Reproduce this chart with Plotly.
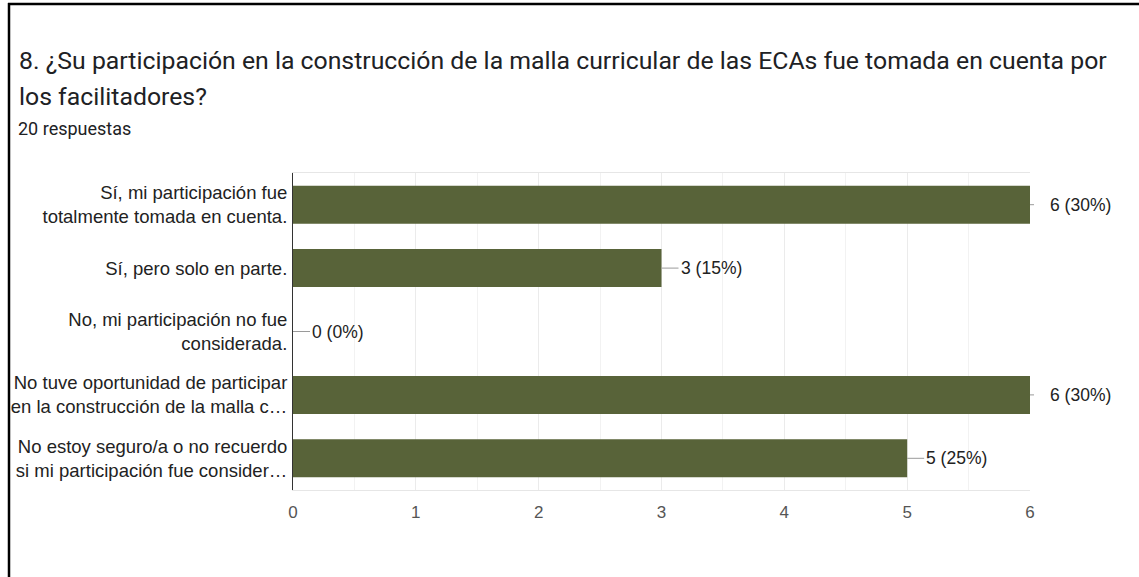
import plotly.graph_objects as go

categories = [
    "Sí, mi participación fue<br>totalmente tomada en cuenta.",
    "Sí, pero solo en parte.",
    "No, mi participación no fue<br>considerada.",
    "No tuve oportunidad de participar<br>en la construcción de la malla c…",
    "No estoy seguro/a o no recuerdo<br>si mi participación fue consider…",
]
counts = [6, 3, 0, 6, 5]
percents = [30, 15, 0, 30, 25]
x_ticks = [0, 1, 2, 3, 4, 5, 6]

W, H = 1139, 577
L, R, T, B = 293, 109, 173, 87
PW, PH = W - L - R, H - T - B


def px_x(p):
    return (p - L) / PW


def px_y(p):
    return 1 - (p - T) / PH


BAR = "#586339"
LABEL_FONT = "Liberation Sans, Arial"

fig = go.Figure()
fig.add_trace(go.Bar(
    y=categories, x=counts, orientation="h",
    marker=dict(color=BAR, line=dict(width=0)),
    hoverinfo="skip",
))

vmax = max(counts)
for c, v, p in zip(categories, counts, percents):
    fig.add_annotation(
        x=v, y=c, xref="x", yref="y",
        text=f"{v} ({p}%)",
        showarrow=True, arrowhead=0, arrowwidth=1, arrowcolor="#9a9a9a",
        ax=(18 if v == vmax else 17), ay=0,
        startstandoff=(14 if v == vmax else 0),
        xanchor="left", yanchor="middle",
        font=dict(family=LABEL_FONT, size=17.5, color="#222222"),
    )

title_font = dict(family="Roboto", size=24.8, color="#202124")
fig.add_annotation(x=px_x(17), y=px_y(61), xref="paper", yref="paper",
                   text="8. ¿Su participación en la construcción de la malla curricular de las ECAs fue tomada en cuenta por",
                   showarrow=False, xanchor="left", yanchor="middle", font=title_font)
fig.add_annotation(x=px_x(17), y=px_y(97), xref="paper", yref="paper",
                   text="los facilitadores?",
                   showarrow=False, xanchor="left", yanchor="middle", font=title_font)
fig.add_annotation(x=px_x(16), y=px_y(128), xref="paper", yref="paper",
                   text="20 respuestas",
                   showarrow=False, xanchor="left", yanchor="middle",
                   font=dict(family="Roboto", size=18, color="#202124"))

# outer frame lines (left and top)
fig.add_shape(type="line", xref="paper", yref="paper",
              x0=px_x(9), x1=px_x(9), y0=px_y(3), y1=px_y(H + 5),
              line=dict(color="#000000", width=2.5))
fig.add_shape(type="line", xref="paper", yref="paper",
              x0=px_x(8), x1=px_x(W + 5), y0=px_y(4), y1=px_y(4),
              line=dict(color="#000000", width=2.5))

fig.update_layout(
    width=W, height=H,
    margin=dict(l=L, r=R, t=T, b=B),
    paper_bgcolor="white", plot_bgcolor="white",
    showlegend=False,
    bargap=0.4,
    xaxis=dict(
        range=[0, 6], tickvals=x_ticks, ticktext=[str(t) for t in x_ticks],
        showgrid=True, gridcolor="#ebebeb", gridwidth=1,
        minor=dict(dtick=0.5, showgrid=True, gridcolor="#f2f2f2"),
        zeroline=False,
        showline=True, linecolor="#e6e6e6", linewidth=1, mirror=True,
        ticks="", ticklabelstandoff=7,
        tickfont=dict(family=LABEL_FONT, size=17, color="#555555"),
    ),
    yaxis=dict(
        autorange="reversed",
        showgrid=False, zeroline=False,
        showline=True, linecolor="#333333", linewidth=1,
        ticks="", ticklabelstandoff=1,
        tickfont=dict(family=LABEL_FONT, size=18.5, color="#222222"),
    ),
)

fig.write_html("out.html", config={"displayModeBar": False},
               post_script="document.body.style.margin='0';")
